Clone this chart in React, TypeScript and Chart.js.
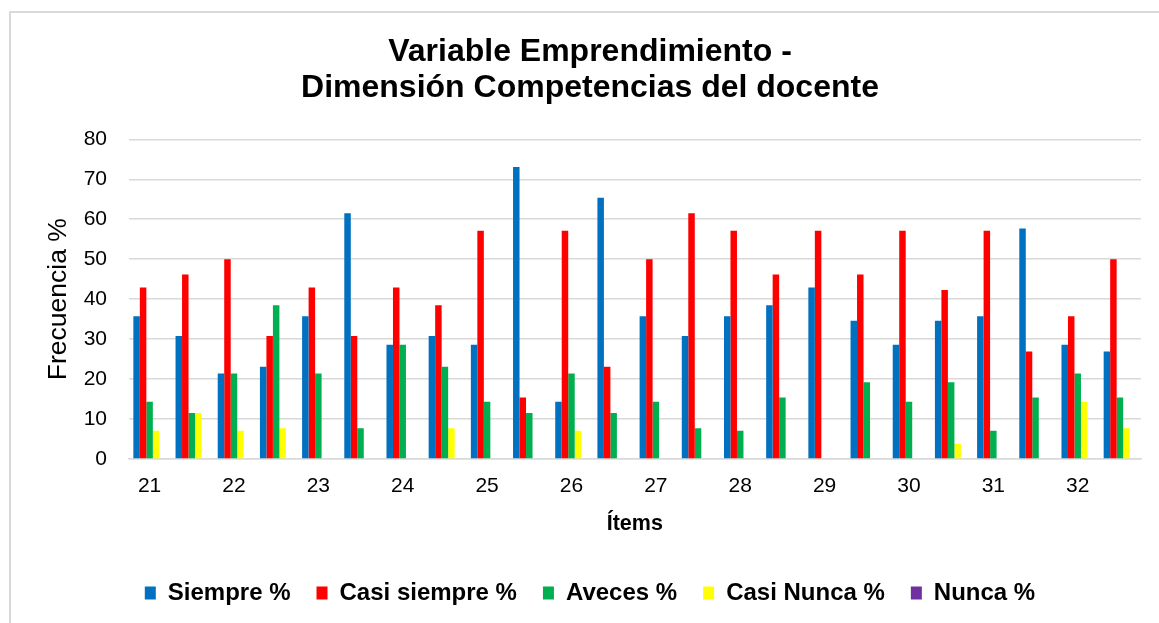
import React, { useEffect, useRef } from "react";
import { Chart, registerables } from "chart.js";

Chart.register(...registerables);

const items = ["21", "", "22", "", "23", "", "24", "", "25", "", "26", "", "27", "", "28", "", "29", "", "30", "", "31", "", "32", ""];
const siempre = [35.7, 30.8, 21.4, 23.1, 35.7, 61.5, 28.6, 30.8, 28.6, 73.1, 14.3, 65.4, 35.7, 30.8, 35.7, 38.5, 42.9, 34.6, 28.6, 34.6, 35.7, 57.7, 28.6, 26.9];
const casiSiempre = [42.9, 46.2, 50, 30.8, 42.9, 30.8, 42.9, 38.5, 57.1, 15.4, 57.1, 23.1, 50, 61.5, 57.1, 46.2, 57.1, 46.2, 57.1, 42.3, 57.1, 26.9, 35.7, 50];
const aveces = [14.3, 11.5, 21.4, 38.5, 21.4, 7.7, 28.6, 23.1, 14.3, 11.5, 21.4, 11.5, 14.3, 7.7, 7.1, 15.4, 0, 19.2, 14.3, 19.2, 7.1, 15.4, 21.4, 15.4];
const casiNunca = [7.1, 11.5, 7.1, 7.7, 0, 0, 0, 7.7, 0, 0, 7.1, 0, 0, 0, 0, 0, 0, 0, 0, 3.8, 0, 0, 14.3, 7.7];
const nunca = [0, 0, 0, 0, 0, 0, 0, 0, 0, 0, 0, 0, 0, 0, 0, 0, 0, 0, 0, 0, 0, 0, 0, 0];

const seriesNames = ["Siempre %", "Casi siempre %", "Aveces %", "Casi Nunca %", "Nunca %"];
const seriesColors = ["#0070C0", "#FF0000", "#00B050", "#FFFF00", "#7030A0"];

const titleLines = ["Variable Emprendimiento -", "Dimensión Competencias del docente"];
const yTitle = "Frecuencia %";
const xTitle = "Ítems";

const FONT = "'Liberation Sans', Arial, Helvetica, sans-serif";

export default function App() {
  const ref = useRef<HTMLCanvasElement | null>(null);

  useEffect(() => {
    if (!ref.current) return;
    const values = [siempre, casiSiempre, aveces, casiNunca, nunca];
    const chart = new Chart(ref.current, {
      type: "bar",
      data: {
        labels: items,
        datasets: values.map((v, i) => ({
          label: seriesNames[i],
          data: v,
          backgroundColor: seriesColors[i],
          borderWidth: 0,
          categoryPercentage: 0.77,
          barPercentage: 1,
        })),
      },
      options: {
        responsive: false,
        animation: false,
        devicePixelRatio: 1,
        layout: { padding: { top: 24, left: 39, right: 39, bottom: 35 } },
        plugins: {
          title: {
            display: true,
            text: titleLines,
            color: "#000",
            font: { family: FONT, size: 32, weight: "bold", lineHeight: 1.13 },
            padding: { top: 10, bottom: 33 },
          },
          legend: {
            position: "bottom",
            labels: {
              color: "#000",
              font: { family: FONT, size: 24, weight: "bold" },
              boxWidth: 11,
              boxHeight: 13,
              padding: 26,
            },
          },
          tooltip: { enabled: false },
        },
        scales: {
          x: {
            grid: { display: false, drawTicks: false },
            border: { display: true, color: "#d9d9d9", width: 1.5 },
            ticks: {
              color: "#000",
              font: { family: FONT, size: 21 },
              padding: 15,
              autoSkip: false,
              maxRotation: 0,
              minRotation: 0,
            },
            title: {
              display: true,
              text: xTitle,
              color: "#000",
              font: { family: FONT, size: 21.5, weight: "bold" },
              padding: { top: 12, bottom: 18 },
            },
            afterFit: (scale: any) => {
              scale.height = 96;
            },
          },
          y: {
            min: 0,
            max: 80,
            grid: { color: "#d9d9d9", lineWidth: 1.5, drawTicks: false },
            border: { display: false },
            ticks: {
              stepSize: 10,
              color: "#000",
              font: { family: FONT, size: 21 },
              padding: 21.5,
            },
            title: {
              display: true,
              text: yTitle,
              color: "#000",
              font: { family: FONT, size: 26.5 },
              padding: { top: 4, bottom: 0 },
            },
            afterFit: (scale: any) => {
              scale.width = 89.5;
            },
          },
        },
      },
    });
    return () => chart.destroy();
  }, []);

  return (
    <div style={{ position: "fixed", left: 0, top: 0, width: 1159, height: 623, overflow: "hidden", background: "#fff" }}>
      <div
        style={{
          position: "absolute",
          left: 9,
          top: 11,
          width: 1300,
          height: 800,
          borderLeft: "2px solid #d9d9d9",
          borderTop: "2px solid #d9d9d9",
        }}
      />
      <canvas ref={ref} width={1180} height={650} style={{ position: "absolute", left: 0, top: 0, width: 1180, height: 650 }} />
    </div>
  );
}
